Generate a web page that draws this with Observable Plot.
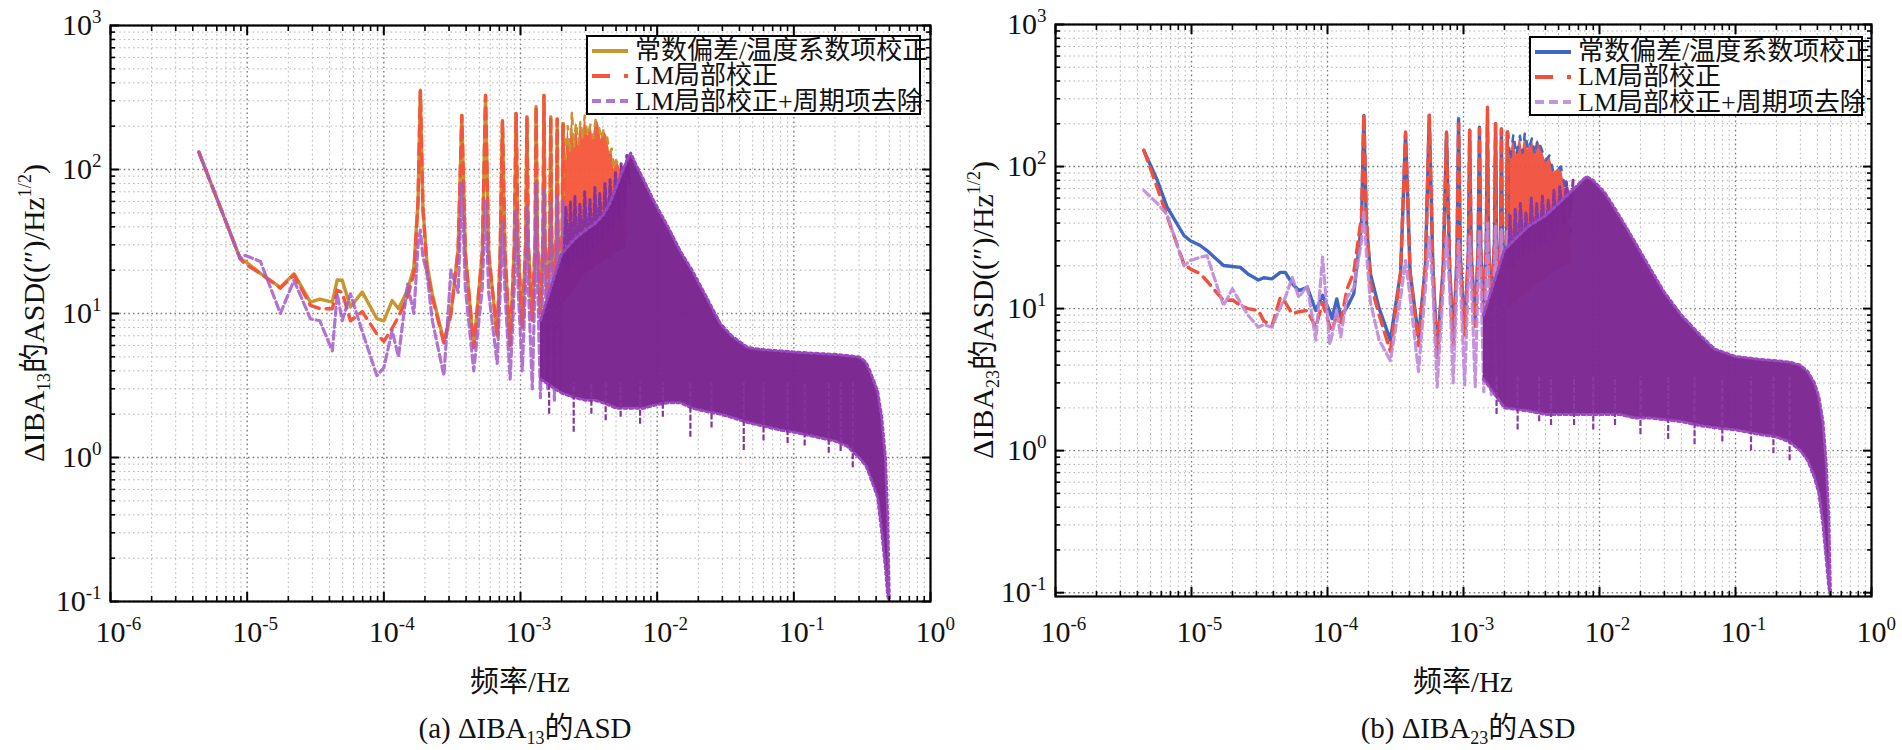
<!DOCTYPE html>
<html><head><meta charset="utf-8">
<script src="https://cdn.jsdelivr.net/npm/d3@7"></script>
<script src="https://cdn.jsdelivr.net/npm/@observablehq/plot@0.6"></script>
<style>
html,body{margin:0;padding:0;background:#fff;}
#root{position:relative;width:1902px;height:750px;overflow:hidden;font-family:"Liberation Serif","Noto Sans CJK SC",serif;color:#111;background:#fff;}
.pl{position:absolute;}
.xlab,.cap{position:absolute;text-align:center;font-size:29px;line-height:30px;white-space:nowrap;}
.ylab{position:absolute;width:560px;height:36px;line-height:36px;text-align:center;font-size:30px;transform:rotate(-90deg);white-space:nowrap;}
sub{font-size:18px;vertical-align:-6px;line-height:0}
sup{font-size:18px;vertical-align:13px;line-height:0}
.legend{position:absolute;box-sizing:border-box;border:2px solid #000;background:#fff;padding:1px 3px;}
.legend .row{display:flex;align-items:center;height:25.3px;font-size:26px;line-height:25px;white-space:nowrap;}
.legend svg{flex:none;margin-right:6px;}
</style></head>
<body><div id="root"></div>
<script>
// ---------- shared axis data ----------
const xTickExp = [-6, -5, -4, -3, -2, -1, 0];
const yTickExp = [-1, 0, 1, 2, 3];
const legendLabels = ["常数偏差/温度系数项校正", "LM局部校正", "LM局部校正+周期项去除"];
const xLabelText = "频率/Hz";
const captionA = "(a) ΔIBA<sub>13</sub>的ASD";
const captionB = "(b) ΔIBA<sub>23</sub>的ASD";
const yLabelA = "ΔIBA<sub>13</sub>的ASD((″)/Hz<sup>1/2</sup>)";
const yLabelB = "ΔIBA<sub>23</sub>的ASD((″)/Hz<sup>1/2</sup>)";

// ---------- panel (a): connected spectrum, Hz ----------
const fA = [4.43e-6, 8.9e-6, 9.7e-6, 1.25e-5, 1.75e-5, 2.2e-5, 2.9e-5, 3.4e-5, 4.2e-5, 4.56e-5,
  4.96e-5, 5.7e-5, 6.95e-5, 8.9e-5, 1.0e-4, 1.15e-4, 1.28e-4, 1.49e-4, 1.66e-4, 1.78e-4,
  1.85e-4, 1.93e-4, 2.07e-4, 2.26e-4, 2.75e-4, 3.1e-4, 3.5e-4, 3.72e-4, 3.95e-4, 4.55e-4,
  5.25e-4, 5.55e-4, 5.85e-4, 6.75e-4, 7.1e-4, 7.38e-4, 7.7e-4, 8.4e-4, 9.0e-4, 9.28e-4,
  9.6e-4, 1.03e-3, 1.09e-3, 1.115e-3, 1.14e-3, 1.22e-3, 1.28e-3, 1.30e-3, 1.33e-3, 1.40e-3,
  1.46e-3, 1.485e-3, 1.51e-3, 1.58e-3, 1.64e-3, 1.665e-3, 1.69e-3, 1.77e-3, 1.83e-3, 1.855e-3,
  1.88e-3, 1.97e-3, 2.02e-3, 2.045e-3, 2.07e-3];
const goldA = [132, 24, 23, 19, 15.2, 18.9, 12, 12.6, 12, 17.1,
  17, 11.1, 14.1, 9.2, 8.9, 12.3, 10.8, 14.5, 21, 60,
  355, 55, 22, 13.7, 6.4, 10, 28, 237, 26, 5.8,
  26, 327, 26, 7, 26, 219, 26, 6, 28, 245,
  28, 8, 30, 233, 30, 9, 32, 274, 32, 10,
  34, 327, 34, 11, 36, 233, 36, 12, 38, 224,
  38, 13, 40, 209, 40];
const redA = [132, 24, 22, 19, 15, 18.5, 11.4, 10.8, 10.8, 14.5,
  14, 8.9, 10.3, 7.2, 6.4, 7.9, 9.5, 13, 19, 60,
  350, 55, 20, 13, 6.2, 10, 28, 237, 26, 5.8,
  26, 327, 26, 7, 26, 219, 26, 6, 28, 245,
  28, 8, 30, 233, 30, 9, 32, 274, 32, 10,
  34, 327, 34, 11, 36, 233, 36, 12, 38, 224,
  38, 13, 40, 209, 40];
const purpA = [132, 24, 25.3, 23, 10, 17, 9.2, 8.9, 5.5, 13.7,
  8.9, 13.7, 7.5, 3.7, 4.2, 7.6, 5, 16, 10, 30,
  38, 25, 18.9, 9, 3.7, 20, 14, 80, 15, 4,
  15, 60, 14, 4.5, 14, 44, 14, 3.5, 15, 52,
  15, 4, 16, 55, 16, 3, 18, 80, 18, 2.6,
  20, 72, 20, 3, 20, 60, 20, 2.5, 22, 65,
  22, 3, 22, 60, 22];
// dense red/gold region (a)
const bandFA = [2.07e-3, 2.14e-3, 2.22e-3, 2.3e-3, 2.38e-3, 2.46e-3, 2.55e-3, 2.65e-3, 2.75e-3, 2.85e-3,
  2.95e-3, 3.1e-3, 3.25e-3, 3.4e-3, 3.55e-3, 3.7e-3, 3.9e-3, 4.05e-3, 4.3e-3, 4.5e-3,
  4.65e-3, 4.85e-3, 5.0e-3, 5.3e-3, 5.5e-3, 5.7e-3, 5.95e-3];
const bandHiA = [209, 120, 200, 130, 257, 140, 215, 150, 220, 160,
  237, 170, 205, 165, 222, 213, 160, 190, 168, 130,
  140, 100, 116, 105, 80, 94, 35];
const bandLoA = [12, 12, 13, 13, 14, 14, 15, 16, 17, 18,
  19, 19, 20, 20, 21, 22, 22, 23, 24, 24,
  25, 25, 26, 27, 27, 28, 28];
// purple spectrum continuing inside the dense region (a)
const fDA = [2.07e-3, 2.15e-3, 2.24e-3, 2.32e-3, 2.42e-3, 2.5e-3, 2.62e-3, 2.72e-3, 2.85e-3, 2.95e-3,
  3.1e-3, 3.22e-3, 3.38e-3, 3.5e-3, 3.68e-3, 3.8e-3, 4.0e-3, 4.15e-3, 4.38e-3, 4.52e-3,
  4.78e-3, 4.95e-3, 5.25e-3, 5.45e-3, 5.8e-3, 6.0e-3, 6.3e-3];
const purpDA = [22, 55, 20, 60, 22, 65, 24, 58, 25, 70,
  26, 62, 28, 75, 30, 68, 32, 80, 35, 85,
  40, 95, 45, 110, 55, 125, 80];
// dense purple region (a)
const pBandFA = [1.4e-3, 2.0e-3, 2.5e-3, 3.0e-3, 3.5e-3, 4.0e-3, 4.5e-3, 5.0e-3, 5.5e-3, 6.0e-3,
  6.4e-3, 7.0e-3, 8.0e-3, 9.4e-3, 1.2e-2, 1.48e-2, 1.8e-2, 2.2e-2, 2.9e-2, 3.5e-2,
  4.6e-2, 6e-2, 8e-2, 0.1, 0.14, 0.2, 0.245, 0.3, 0.336, 0.36,
  0.41, 0.44, 0.468, 0.486, 0.5];
const pBandHiA = [9, 26, 33, 38, 42, 48, 58, 75, 95, 115,
  130, 108, 84, 61, 40, 27, 20, 14, 8.5, 7,
  5.8, 5.6, 5.5, 5.4, 5.3, 5.2, 5.1, 5.0, 4.6, 4.0,
  2.9, 1.9, 1.0, 0.39, 0.1];
const pBandLoA = [3.5, 2.8, 2.6, 2.5, 2.5, 2.4, 2.3, 2.2, 2.2, 2.2,
  2.2, 2.2, 2.2, 2.3, 2.4, 2.4, 2.2, 2.1, 2.0, 1.9,
  1.75, 1.65, 1.55, 1.5, 1.4, 1.3, 1.2, 1.0, 0.88, 0.75,
  0.53, 0.3, 0.17, 0.11, 0.1];
const spikeFA = [1.62e-3, 2.45e-3, 3.3e-3, 4.2e-3, 5.4e-3, 7.5e-3, 1.1e-2, 1.75e-2, 2.5e-2, 4.3e-2, 6e-2, 9e-2, 0.12, 0.18, 0.22, 0.27];
const spikeVA = [2.0, 1.5, 2.0, 1.8, 1.9, 1.7, 1.9, 1.38, 1.6, 1.12, 1.3, 1.25, 1.2, 1.07, 1.1, 0.85];

// ---------- panel (b) ----------
const fB = [4.46e-6, 5.6e-6, 6.6e-6, 8.8e-6, 9.8e-6, 1.16e-5, 1.3e-5, 1.72e-5, 2.0e-5, 2.29e-5,
  2.6e-5, 3.1e-5, 3.4e-5, 3.9e-5, 4.5e-5, 4.9e-5, 5.5e-5, 6.15e-5, 7.1e-5, 8.2e-5,
  9.2e-5, 1.04e-4, 1.08e-4, 1.17e-4, 1.25e-4, 1.39e-4, 1.56e-4, 1.78e-4, 1.85e-4, 1.93e-4,
  2.07e-4, 2.4e-4, 2.9e-4, 3.45e-4, 3.75e-4, 4.05e-4, 4.67e-4, 5.25e-4, 5.6e-4, 5.95e-4,
  6.4e-4, 7.1e-4, 7.5e-4, 7.9e-4, 8.4e-4, 8.95e-4, 9.2e-4, 9.5e-4, 1.02e-3, 1.085e-3,
  1.11e-3, 1.14e-3, 1.22e-3, 1.28e-3, 1.31e-3, 1.34e-3, 1.41e-3, 1.47e-3, 1.50e-3, 1.53e-3,
  1.60e-3, 1.69e-3, 1.72e-3, 1.75e-3, 1.82e-3, 1.875e-3, 1.90e-3, 1.93e-3, 2.0e-3, 2.07e-3,
  2.1e-3, 2.13e-3];
const blueB = [130, 80, 52, 32.7, 30, 27.8, 25.6, 20.1, 19.8, 19.5,
  17.5, 15.9, 16.5, 16.2, 18, 18, 15, 13.4, 14.1, 9.7,
  12.4, 9.5, 8.5, 11.7, 8.7, 10.2, 12.7, 40, 229, 40,
  17.5, 10, 6.0, 18, 170, 18, 6.3, 20, 229, 20,
  4.8, 20, 170, 20, 6, 22, 217, 22, 7, 24,
  180, 24, 8, 26, 189, 26, 9, 28, 218, 28,
  10, 30, 200, 30, 11, 32, 184, 32, 12, 34,
  175, 34];
const redB = [130, 71, 45, 20.6, 19, 17.6, 15.6, 11.4, 11.5, 10.5,
  10, 9.7, 8.2, 7.5, 12, 11, 9.2, 9.5, 9.7, 7.4,
  11, 7.5, 7.1, 9, 8, 13.7, 18, 45, 235, 45,
  15, 9, 5.0, 18, 175, 18, 5.5, 20, 230, 20,
  4.5, 20, 175, 20, 5.5, 22, 200, 22, 6.5, 24,
  180, 24, 7.5, 26, 185, 26, 8.5, 28, 262, 28,
  9.5, 30, 200, 30, 10.5, 32, 184, 32, 11.5, 34,
  175, 34];
const purpB = [68, 55, 46, 20, 21.8, 23, 23.6, 10.5, 13.8, 11,
  9, 7.4, 7.7, 7.4, 10.2, 12, 16.6, 12, 14.5, 6.0,
  23, 5.6, 6.5, 9.8, 6.3, 12, 14, 30, 49, 25,
  11, 6, 4.3, 12, 21.8, 12, 3.6, 14, 31.8, 14,
  2.8, 14, 33, 14, 3, 15, 30, 15, 2.9, 16,
  32, 16, 2.8, 17, 35, 17, 2.6, 18, 40, 18,
  2.4, 19, 38, 19, 2.3, 20, 36, 20, 2.2, 20,
  35, 20];
const bandFB = [2.13e-3, 2.2e-3, 2.33e-3, 2.45e-3, 2.6e-3, 2.72e-3, 2.83e-3, 3.0e-3, 3.2e-3, 3.35e-3,
  3.5e-3, 3.75e-3, 4.0e-3, 4.3e-3, 4.6e-3, 5.2e-3, 5.6e-3, 5.9e-3, 6.2e-3];
const bandHiB = [175, 110, 170, 120, 165, 125, 174, 130, 160, 120,
  155, 133, 110, 120, 90, 100, 70, 60, 30];
const bandLoB = [10, 10, 11, 11, 12, 12, 13, 13, 14, 14,
  15, 15, 16, 17, 18, 19, 20, 20, 20];
const fDB = [2.13e-3, 2.2e-3, 2.3e-3, 2.4e-3, 2.52e-3, 2.62e-3, 2.76e-3, 2.88e-3, 3.02e-3, 3.15e-3,
  3.32e-3, 3.45e-3, 3.65e-3, 3.8e-3, 4.02e-3, 4.2e-3, 4.45e-3, 4.62e-3, 4.9e-3, 5.1e-3,
  5.45e-3, 5.7e-3, 6.1e-3, 6.4e-3];
const purpDB = [20, 45, 20, 50, 22, 55, 24, 48, 25, 60,
  26, 55, 28, 62, 30, 58, 32, 68, 35, 72,
  40, 78, 48, 80];
const pBandFB = [1.4e-3, 2e-3, 3e-3, 4e-3, 5e-3, 6e-3, 7e-3, 8e-3, 9e-3, 1.1e-2,
  1.4e-2, 1.8e-2, 2.3e-2, 3e-2, 4e-2, 5.5e-2, 7e-2, 0.1, 0.15, 0.2,
  0.25, 0.3, 0.34, 0.38, 0.41, 0.44, 0.465, 0.485, 0.5];
const pBandHiB = [9, 26, 38, 45, 55, 65, 75, 85, 80, 65,
  45, 30, 20, 13, 9, 6.5, 5.2, 4.6, 4.4, 4.3,
  4.2, 4.0, 3.6, 3.0, 2.4, 1.6, 0.8, 0.35, 0.094];
const pBandLoB = [3.2, 2.0, 1.9, 1.8, 1.8, 1.8, 1.8, 1.8, 1.8, 1.8,
  1.8, 1.7, 1.7, 1.65, 1.6, 1.5, 1.45, 1.4, 1.3, 1.25,
  1.15, 1.0, 0.85, 0.65, 0.5, 0.3, 0.17, 0.11, 0.094];
const spikeFB = [1.75e-3, 2.5e-3, 3.6e-3, 4.4e-3, 6.5e-3, 9e-3, 1.3e-2, 2e-2, 3.2e-2, 5e-2, 8e-2, 0.13, 0.19, 0.25];
const spikeVB = [1.8, 1.4, 1.6, 1.5, 1.5, 1.4, 1.5, 1.3, 1.2, 1.1, 1.15, 1.0, 0.95, 0.85];

// ---------- styles ----------
const styleA = {c1: "#C8952F", c2: "#F5553A", c3: "#A35CC8", c3o: 0.85, dense: "#7A2390", fringe: "#9A48BE", texture: "#86339F"};
const styleB = {c1: "#3F66C3", c2: "#F0503C", c3: "#C088D8", c3o: 0.9, dense: "#7C2792", fringe: "#9C4CC0", texture: "#8A38A4"};

const root = document.getElementById("root");
const NS = "http://www.w3.org/2000/svg";

function rows(f, v) { return f.map((x, i) => ({f: x, v: v[i]})); }
function bandRows(f, lo, hi) { return f.map((x, i) => ({f: x, lo: lo[i], hi: hi[i]})); }

function makePlot(o) {
  const majorX = xTickExp.map(e => 10 ** e);
  const majorY = yTickExp.map(e => 10 ** e);
  const mult = [2, 3, 4, 5, 6, 7, 8, 9];
  const minorX = xTickExp.slice(0, -1).flatMap(e => mult.map(m => m * 10 ** e));
  const minorY = yTickExp.slice(0, -1).flatMap(e => mult.map(m => m * 10 ** e));
  const s = o.style;
  const grid = {strokeOpacity: 1, strokeDasharray: "1.6,3"};
  const fmt = d => "10^" + Math.round(Math.log10(d));
  const tickOpt = {fill: "none", label: null, stroke: "#000"};
  const pRows = bandRows(o.pF, o.pLo, o.pHi);
  const plot = Plot.plot({
    width: o.width, height: o.height,
    marginLeft: o.ml, marginRight: o.mr, marginTop: o.mt, marginBottom: o.mb,
    x: {type: "log", domain: [1e-6, 1]},
    y: {type: "log", domain: o.yDomain},
    style: {fontFamily: "'Liberation Serif', serif", fontSize: "30px", background: "transparent", overflow: "visible", color: "#111"},
    marks: [
      Plot.gridX(minorX, {...grid, stroke: "#b4b4b4", strokeWidth: 1}),
      Plot.gridY(minorY, {...grid, stroke: "#b4b4b4", strokeWidth: 1}),
      Plot.gridX(majorX, {...grid, stroke: "#7c7c7c", strokeWidth: 1.4}),
      Plot.gridY(majorY, {...grid, stroke: "#7c7c7c", strokeWidth: 1.4}),
      Plot.areaY(bandRows(o.bandF, o.bandLo, o.bandHi), {x: "f", y1: "lo", y2: "hi", fill: s.c2, fillOpacity: 0.95, clip: true}),
      Plot.line(bandRows(o.bandF, o.bandLo, o.bandHi), {x: "f", y: "hi", stroke: s.c1, strokeWidth: 2.5, strokeDasharray: "6,10", clip: true}),
      Plot.line(rows(o.f, o.s1), {x: "f", y: "v", stroke: s.c1, strokeWidth: 3.4, strokeLinejoin: "round", clip: true}),
      Plot.line(rows(o.f, o.s2), {x: "f", y: "v", stroke: s.c2, strokeWidth: 3.4, strokeDasharray: "11,7", strokeLinejoin: "round", clip: true}),
      Plot.line(rows(o.f, o.s3), {x: "f", y: "v", stroke: s.c3, strokeOpacity: s.c3o, strokeWidth: 3.2, strokeDasharray: "8,4", strokeLinejoin: "round", clip: true}),
      Plot.line(rows(o.dF, o.dV), {x: "f", y: "v", stroke: s.texture, strokeWidth: 3, strokeDasharray: "7,3", strokeLinejoin: "round", clip: true}),
      Plot.areaY(pRows, {x: "f", y1: "lo", y2: "hi", fill: s.dense, fillOpacity: 0.97, clip: true}),
      Plot.line(pRows, {x: "f", y: "hi", stroke: s.fringe, strokeWidth: 3, strokeDasharray: "3,3", clip: true}),
      Plot.line(pRows, {x: "f", y: "lo", stroke: s.fringe, strokeWidth: 3, strokeDasharray: "3,3", clip: true}),
      Plot.ruleX(rows(o.spF, o.spV), {x: "f", y1: "v", y2: 3.3, stroke: s.texture, strokeWidth: 2.2, strokeDasharray: "6,2", clip: true}),
      Plot.frame({stroke: "#000", strokeWidth: 2.2}),
      Plot.axisX(majorX, {...tickOpt, anchor: "bottom", tickSize: -9, strokeWidth: 2}),
      Plot.axisX(minorX, {...tickOpt, anchor: "bottom", tickSize: -5, strokeWidth: 1.6}),
      Plot.axisX(majorX, {...tickOpt, anchor: "top", tickSize: -9, strokeWidth: 2}),
      Plot.axisX(minorX, {...tickOpt, anchor: "top", tickSize: -5, strokeWidth: 1.6}),
      Plot.axisY(majorY, {...tickOpt, anchor: "left", tickSize: -9, strokeWidth: 2}),
      Plot.axisY(minorY, {...tickOpt, anchor: "left", tickSize: -5, strokeWidth: 1.6}),
      Plot.axisY(majorY, {...tickOpt, anchor: "right", tickSize: -9, strokeWidth: 2}),
      Plot.axisY(minorY, {...tickOpt, anchor: "right", tickSize: -5, strokeWidth: 1.6}),
      Plot.axisX(majorX, {anchor: "bottom", tickSize: 0, tickPadding: o.xPad, tickFormat: fmt, fontSize: 30, label: null}),
      Plot.axisY(majorY, {anchor: "left", tickSize: 0, tickPadding: 9, tickFormat: fmt, fontSize: 30, label: null})
    ]
  });
  // superscript exponents on the tick labels
  plot.querySelectorAll("g[aria-label$='tick label'] text").forEach(t => {
    const m = (t.textContent || "").match(/^10\^(.+)$/);
    if (!m) return;
    const isX = t.closest("g").getAttribute("aria-label").startsWith("x");
    while (t.firstChild) t.removeChild(t.firstChild);
    const base = document.createElementNS(NS, "tspan");
    base.textContent = "10";
    const sup = document.createElementNS(NS, "tspan");
    sup.textContent = m[1];
    sup.setAttribute("dy", "-12");
    sup.setAttribute("font-size", "19");
    if (isX) { t.setAttribute("text-anchor", "start"); base.setAttribute("dx", "-15"); }
    t.appendChild(base); t.appendChild(sup);
  });
  const wrap = document.createElement("div");
  wrap.className = "pl";
  wrap.style.left = o.left + "px";
  wrap.style.top = "0px";
  wrap.appendChild(plot);
  root.appendChild(wrap);
}

function addDiv(cls, html, style) {
  const d = document.createElement("div");
  d.className = cls; d.innerHTML = html;
  Object.assign(d.style, style);
  root.appendChild(d);
  return d;
}

function addLegend(left, top, width, s) {
  const lg = addDiv("legend", "", {left: left + "px", top: top + "px", width: width + "px", height: "80px"});
  const samples = [
    {stroke: s.c1, dash: null, op: 1},
    {stroke: s.c2, dash: "18,14", op: 1},
    {stroke: s.c3, dash: "9,5", op: s.c3o}
  ];
  legendLabels.forEach((lab, i) => {
    const row = document.createElement("div");
    row.className = "row";
    const sv = document.createElementNS(NS, "svg");
    sv.setAttribute("width", "38"); sv.setAttribute("height", "20");
    const ln = document.createElementNS(NS, "line");
    ln.setAttribute("x1", "1"); ln.setAttribute("x2", "37");
    ln.setAttribute("y1", "10"); ln.setAttribute("y2", "10");
    ln.setAttribute("stroke", samples[i].stroke);
    ln.setAttribute("stroke-width", "4");
    ln.setAttribute("stroke-opacity", samples[i].op);
    if (samples[i].dash) ln.setAttribute("stroke-dasharray", samples[i].dash);
    sv.appendChild(ln);
    const tx = document.createElement("span");
    tx.textContent = lab;
    row.appendChild(sv); row.appendChild(tx);
    lg.appendChild(row);
  });
}

// panel (a)
makePlot({left: 0, width: 940, height: 650, ml: 110, mr: 10, mt: 25, mb: 49, xPad: 19,
  yDomain: [0.1, 1000], style: styleA,
  f: fA, s1: goldA, s2: redA, s3: purpA, dF: fDA, dV: purpDA,
  bandF: bandFA, bandLo: bandLoA, bandHi: bandHiA,
  pF: pBandFA, pLo: pBandLoA, pHi: pBandHiA, spF: spikeFA, spV: spikeVA});
// panel (b)
makePlot({left: 945, width: 936, height: 650, ml: 110, mr: 10, mt: 24, mb: 54, xPad: 24,
  yDomain: [0.094, 1000], style: styleB,
  f: fB, s1: blueB, s2: redB, s3: purpB, dF: fDB, dV: purpDB,
  bandF: bandFB, bandLo: bandLoB, bandHi: bandHiB,
  pF: pBandFB, pLo: pBandLoB, pHi: pBandHiB, spF: spikeFB, spV: spikeVB});

// axis labels and captions
addDiv("xlab", xLabelText, {left: "110px", width: "820px", top: "667px"});
addDiv("cap", captionA, {left: "115px", width: "820px", top: "713px"});
addDiv("xlab", xLabelText, {left: "1055px", width: "816px", top: "667px"});
addDiv("cap", captionB, {left: "1060px", width: "816px", top: "713px"});
addDiv("ylab", yLabelA, {left: (34 - 280) + "px", top: (313 - 18) + "px"});
addDiv("ylab", yLabelB, {left: (983 - 280) + "px", top: (310 - 18) + "px"});

addLegend(586, 35, 335, styleA);
addLegend(1529, 36, 334, styleB);
</script></body></html>
